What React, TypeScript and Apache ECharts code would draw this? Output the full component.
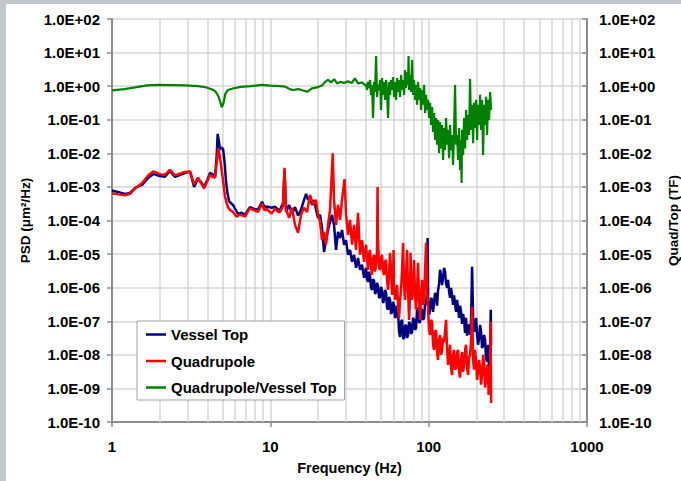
import React, { useEffect, useRef } from "react";
import * as echarts from "echarts";

const FONT = 'Arial, "Liberation Sans", Helvetica, sans-serif';

const seriesNames = ["Vessel Top", "Quadrupole", "Quadrupole/Vessel Top"];
const seriesColors = ["#000080", "#ff0000", "#008000"];

// Vessel Top PSD [frequency Hz, um^2/Hz]
const vesselTop: [number, number][] = [
  [1.0, 7.8e-4], [1.1, 7.0e-4], [1.21, 6.2e-4], [1.3, 6.6e-4], [1.4, 9.3e-4], [1.55, 1.15e-3], [1.69, 1.85e-3], [1.82, 2.4e-3],
  [1.9, 2.3e-3], [2.01, 2.1e-3], [2.16, 2.0e-3], [2.32, 3.0e-3], [2.5, 2.0e-3], [2.7, 2.3e-3], [2.89, 2.6e-3], [3.11, 2.85e-3],
  [3.3, 1.0e-3], [3.49, 1.7e-3], [3.65, 1.4e-3], [3.81, 1.0e-3], [4.0, 1.6e-3], [4.16, 2.6e-3], [4.3, 2.4e-3], [4.48, 2.1e-3],
  [4.58, 8e-3], [4.65, 3.8e-2], [4.75, 2.0e-2], [4.81, 1.26e-2], [4.9, 1.5e-2], [5.03, 1.35e-2], [5.15, 5e-3], [5.24, 1.6e-3],
  [5.35, 7e-4], [5.49, 3.7e-4], [5.81, 2.9e-4], [6.0, 2.2e-4], [6.25, 1.57e-4], [6.6, 1.7e-4], [6.92, 1.47e-4], [7.2, 2.0e-4],
  [7.44, 2.5e-4], [7.9, 2.2e-4], [8.36, 2.1e-4], [8.87, 3.6e-4], [9.2, 2.5e-4], [9.49, 2.6e-4], [10.2, 2.4e-4], [10.7, 2.6e-4],
  [11.2, 2.1e-4], [11.52, 2.1e-4], [12.03, 3.3e-4], [12.29, 3.0e-3], [12.57, 1.8e-4], [13.13, 2.9e-4], [13.71, 1.6e-4], [14.32, 2.5e-4],
  [14.96, 1.4e-4], [15.63, 2.1e-4], [16.33, 4.1e-4], [16.81, 6.2e-4], [17.31, 4.1e-4], [17.81, 5.0e-4], [18.34, 2.9e-4], [18.88, 4.1e-4],
  [19.44, 2.1e-4], [20.01, 1.2e-4], [20.61, 1.5e-4], [21.21, 6.0e-5], [21.84, 1.16e-5], [22.48, 2.6e-5], [23.14, 5.2e-5], [23.83, 9.1e-5],
  [24.53, 1.47e-4], [25.25, 7.4e-5], [26.0, 1.33e-5], [26.77, 4.6e-5], [27.56, 3.0e-5], [28.37, 5.2e-5], [29.22, 1.9e-5], [30.08, 2.6e-5],
  [30.96, 9.5e-6], [31.88, 1.33e-5], [32.82, 5.9e-6], [33.79, 9.5e-6], [34.79, 3.9e-6], [35.81, 7.7e-6], [36.87, 3.4e-6], [37.96, 4.8e-6],
  [39.08, 1.96e-6], [40.23, 3.9e-6], [40.82, 1.7e-6], [41.42, 1.5e-6], [42.03, 3.0e-6], [42.64, 2.2e-6], [43.27, 9.9e-7], [43.9, 8.6e-7],
  [44.54, 1.8e-6], [45.19, 1.6e-6], [45.86, 6.5e-7], [46.53, 7.5e-7], [47.21, 1.4e-6], [47.9, 1.1e-6], [48.6, 5.0e-7], [49.32, 5.3e-7],
  [50.04, 1.06e-6], [50.77, 8.0e-7], [51.51, 3.5e-7], [52.27, 4.3e-7], [53.03, 8.6e-7], [53.81, 7.0e-7], [54.6, 2.5e-7], [55.4, 2.2e-7],
  [56.21, 5.3e-7], [57.04, 4.3e-7], [57.87, 1.66e-7], [58.72, 1.9e-7], [59.58, 3.8e-7], [60.45, 3.1e-7], [61.35, 1.26e-7], [62.24, 1.4e-7],
  [63.15, 2.9e-7], [64.08, 1.9e-7], [65.01, 4.8e-8], [65.96, 3.4e-8], [66.93, 9.6e-8], [67.92, 1.1e-7], [68.91, 3.2e-8], [69.92, 3.0e-8],
  [70.94, 7.3e-8], [71.98, 7.8e-8], [73.04, 3.2e-8], [74.11, 3.9e-8], [75.19, 9.6e-8], [76.3, 8.4e-8], [77.41, 4.2e-8], [78.55, 4.8e-8],
  [79.7, 1.26e-7], [80.87, 1.1e-7], [82.05, 5.5e-8], [83.26, 6.4e-8], [84.48, 2.2e-7], [85.71, 2.5e-7], [86.97, 9.0e-8], [88.25, 9.6e-8],
  [89.54, 2.3e-7], [90.86, 2.2e-7], [92.18, 1.1e-7], [93.53, 1.26e-7], [94.91, 3.5e-7], [96.3, 3.1e-7], [97.7, 8.6e-7], [98.42, 3.0e-5],
  [99.13, 4.3e-7], [100.6, 1.55e-7], [102.1, 2.2e-7], [103.6, 5.0e-7], [105.1, 4.3e-7], [106.6, 1.9e-7], [108.2, 3.8e-7], [109.8, 7.0e-7],
  [111.4, 5.7e-7], [113.0, 2.9e-7], [114.7, 8.6e-7], [116.3, 1.3e-6], [118.0, 3.4e-6], [119.8, 2.2e-6], [121.5, 1.2e-6], [123.3, 1.96e-6],
  [125.1, 3.9e-6], [126.9, 3.0e-6], [128.8, 1.3e-6], [130.7, 9.9e-7], [132.6, 1.7e-6], [134.6, 7.5e-7], [136.5, 5.0e-7], [138.5, 9.9e-7],
  [140.6, 5.7e-7], [142.6, 3.1e-7], [144.7, 5.9e-7], [146.8, 3.1e-7], [149.0, 1.9e-7], [151.2, 4.3e-7], [153.4, 2.5e-7], [155.6, 1.26e-7],
  [157.9, 2.9e-7], [160.2, 1.9e-7], [162.6, 8.4e-8], [165.0, 1.66e-7], [167.4, 1.1e-7], [169.8, 4.5e-8], [172.3, 1.26e-7], [174.8, 3.7e-8],
  [177.4, 7.3e-8], [180.0, 7.8e-8], [182.6, 3.9e-8], [185.3, 1.1e-7], [188.0, 4.2e-6], [190.8, 1.26e-7], [193.6, 4.8e-8], [196.4, 6.4e-8],
  [199.3, 1.26e-7], [202.2, 3.9e-8], [205.1, 2.0e-8], [208.2, 3.2e-8], [211.2, 7.8e-8], [214.3, 4.8e-8], [217.4, 1.6e-8], [220.6, 1.85e-8],
  [223.9, 3.9e-8], [227.1, 2.8e-8], [230.5, 8.2e-9], [233.8, 6.2e-9], [237.3, 2.0e-8], [240.7, 3.6e-9], [244.3, 1.4e-8], [246.8, 2.2e-7],
  [247.9, 2.0e-8],
];

// Quadrupole PSD [frequency Hz, um^2/Hz]
const quadrupole: [number, number][] = [
  [1.0, 6.5e-4], [1.1, 6.0e-4], [1.21, 5.6e-4], [1.3, 6.2e-4], [1.4, 9.0e-4], [1.55, 1.3e-3], [1.69, 2.2e-3], [1.82, 2.9e-3],
  [1.9, 2.7e-3], [2.01, 2.4e-3], [2.16, 2.3e-3], [2.32, 3.2e-3], [2.5, 2.2e-3], [2.7, 2.5e-3], [2.89, 2.8e-3], [3.11, 2.9e-3],
  [3.3, 1.2e-3], [3.49, 1.9e-3], [3.65, 1.3e-3], [3.81, 9.0e-4], [4.0, 1.5e-3], [4.16, 2.3e-3], [4.3, 2.0e-3], [4.48, 1.9e-3],
  [4.58, 5.0e-3], [4.69, 1.4e-2], [4.8, 8.0e-3], [4.93, 3.2e-3], [5.05, 1.3e-3], [5.17, 5.2e-4], [5.3, 3.3e-4], [5.42, 2.4e-4],
  [5.6, 2.0e-4], [5.81, 1.8e-4], [6.13, 1.3e-4], [6.4, 1.5e-4], [6.7, 1.4e-4], [6.92, 1.3e-4], [7.2, 1.8e-4], [7.44, 2.3e-4],
  [7.9, 2.0e-4], [8.36, 1.8e-4], [8.87, 3.2e-4], [9.2, 2.0e-4], [9.49, 2.2e-4], [10.2, 1.6e-4], [10.7, 2.3e-4], [11.2, 1.8e-4],
  [11.52, 1.8e-4], [12.03, 2.7e-4], [12.29, 3.7e-3], [12.57, 2.1e-4], [13.13, 1.2e-4], [13.71, 2.4e-4], [14.32, 7.4e-5], [14.96, 4.3e-5],
  [15.63, 1.47e-4], [16.33, 2.4e-4], [17.06, 1.8e-4], [17.81, 5.8e-4], [18.61, 2.9e-4], [19.44, 4.1e-4], [20.01, 1.47e-4], [20.61, 9.1e-5],
  [21.21, 2.6e-5], [21.84, 4.6e-5], [22.48, 1.9e-5], [23.14, 7.4e-5], [23.83, 2.1e-4], [24.78, 1.0e-2], [25.25, 4.1e-4], [26.0, 7.4e-5],
  [26.77, 2.9e-4], [27.56, 1.04e-4], [28.37, 4.1e-4], [29.43, 1.7e-3], [30.08, 1.47e-4], [30.96, 3.7e-5], [31.88, 1.04e-4], [32.82, 1.9e-5],
  [33.79, 7.4e-5], [34.79, 1.33e-5], [35.81, 1.7e-4], [36.87, 9.5e-6], [37.96, 2.6e-5], [39.08, 5.9e-6], [40.23, 1.9e-5], [40.82, 7.7e-6],
  [41.42, 3.4e-6], [42.03, 9.5e-6], [42.64, 1.33e-5], [43.27, 3.9e-6], [43.9, 2.4e-6], [44.54, 7.7e-6], [45.19, 9.5e-6], [45.86, 3.0e-6],
  [46.53, 4.8e-6], [47.21, 1.33e-5], [47.55, 1.0e-3], [47.9, 2.6e-5], [48.6, 3.9e-6], [49.32, 3.4e-6], [50.04, 7.7e-6], [50.77, 9.5e-6],
  [51.51, 3.0e-6], [52.27, 2.4e-6], [53.03, 5.9e-6], [53.81, 6.7e-6], [54.6, 1.7e-6], [55.4, 8.6e-7], [56.21, 2.4e-6], [57.04, 1.09e-5],
  [57.87, 3.4e-6], [58.72, 6.1e-7], [59.58, 1.7e-6], [60.0, 1.33e-5], [60.45, 1.2e-6], [61.35, 4.3e-7], [62.24, 8.6e-7], [63.15, 1.2e-6],
  [64.08, 3.1e-7], [65.01, 1.26e-7], [65.96, 4.3e-7], [66.93, 8.6e-7], [67.92, 3.4e-6], [68.91, 2.15e-5], [69.92, 1.2e-6], [70.94, 4.3e-7],
  [71.98, 2.4e-6], [73.04, 1.33e-5], [74.11, 8.6e-7], [75.19, 1.1e-7], [76.3, 6.1e-7], [76.85, 1.09e-5], [77.41, 1.7e-6], [78.55, 4.3e-7],
  [79.7, 1.2e-6], [80.87, 6.7e-6], [82.05, 6.1e-7], [83.26, 2.2e-7], [84.48, 8.6e-7], [85.71, 5.5e-6], [86.97, 4.3e-7], [88.25, 1.1e-7],
  [89.54, 6.1e-7], [90.86, 1.7e-6], [92.18, 3.1e-7], [93.53, 4.3e-7], [94.91, 3.4e-6], [96.3, 2.15e-5], [97.7, 8.6e-7], [99.13, 2.2e-7],
  [100.6, 5.5e-8], [102.1, 3.9e-8], [103.6, 1.1e-7], [105.1, 9.6e-8], [106.6, 2.0e-8], [108.2, 1.4e-8], [109.8, 4.8e-8], [111.4, 5.5e-8],
  [113.0, 1.2e-8], [114.7, 7.1e-9], [116.3, 2.8e-8], [118.0, 3.9e-8], [119.8, 1.0e-8], [121.5, 1.4e-8], [123.3, 3.2e-8], [125.1, 2.4e-8],
  [126.9, 4.8e-8], [128.8, 1.1e-7], [130.7, 1.4e-8], [132.6, 5.0e-9], [134.6, 1.0e-8], [136.5, 2.0e-8], [138.5, 4.1e-9], [140.6, 2.5e-9],
  [142.6, 1.0e-8], [144.7, 1.4e-8], [146.8, 3.6e-9], [149.0, 4.1e-9], [151.2, 1.2e-8], [153.4, 1.4e-8], [155.6, 3.1e-9], [157.9, 2.1e-9],
  [160.2, 7.1e-9], [162.6, 1.2e-8], [165.0, 3.1e-9], [167.4, 5.0e-9], [169.8, 1.4e-8], [172.3, 2.0e-8], [174.8, 4.1e-9], [177.4, 2.5e-9],
  [180.0, 8.2e-9], [182.6, 1.0e-8], [185.3, 2.8e-8], [188.0, 2.7e-7], [190.8, 7.1e-9], [193.6, 3.6e-9], [196.4, 1.4e-8], [199.3, 6.2e-9],
  [202.2, 1.8e-9], [205.1, 3.1e-9], [208.2, 7.1e-9], [211.2, 4.1e-9], [214.3, 1.3e-9], [217.4, 2.5e-9], [220.6, 1.0e-8], [223.9, 6.2e-9],
  [227.1, 1.05e-9], [230.5, 1.8e-9], [233.8, 5.0e-9], [237.3, 3.1e-9], [239.0, 6.4e-10], [240.7, 1.3e-9], [242.5, 3.6e-9], [244.3, 1.8e-9],
  [246.0, 9.6e-8], [247.9, 3.7e-10],
];

// Quadrupole / Vessel Top transfer function [frequency Hz, ratio]
const ratio: [number, number][] = [
  [1.0, 0.75], [1.2, 0.82], [1.4, 0.92], [1.66, 1.05], [2.0, 1.09], [2.4, 1.08], [2.9, 1.05], [3.5, 1.0],
  [3.9, 0.93], [4.3, 0.8], [4.5, 0.7], [4.7, 0.5], [4.87, 0.3], [4.93, 0.235], [5.05, 0.3], [5.2, 0.6],
  [5.4, 0.77], [5.8, 0.85], [6.5, 0.95], [7.5, 1.0], [8.8, 1.09], [10.0, 1.04], [11.5, 1.0], [12.4, 0.97],
  [13.4, 0.8], [14.0, 0.77], [15.0, 0.82], [16.1, 0.74], [17.1, 0.68], [18.3, 0.86], [20.0, 0.94], [21.2, 1.05],
  [22.2, 1.34], [23.1, 1.55], [24.2, 1.29], [25.3, 1.62], [26.4, 1.21], [27.6, 1.34], [29.2, 1.25], [30.9, 1.4],
  [32.7, 1.25], [34.2, 1.71], [35.8, 1.21], [37.9, 1.29], [39.6, 1.09], [40.23, 1.09], [40.82, 0.77], [41.42, 1.33],
  [42.03, 0.88], [42.64, 1.53], [43.27, 0.55], [43.9, 1.09], [44.54, 0.113], [45.19, 1.33], [45.86, 0.67], [46.53, 7.9],
  [47.21, 0.48], [47.9, 1.09], [48.6, 0.77], [49.32, 1.53], [50.04, 0.196], [50.77, 1.75], [51.51, 0.55], [52.27, 1.33],
  [53.03, 0.39], [53.81, 1.53], [54.6, 0.67], [55.4, 0.113], [56.21, 1.33], [57.04, 0.55], [57.87, 1.53], [58.72, 0.77],
  [59.58, 1.88], [60.45, 0.48], [61.35, 1.33], [62.24, 0.39], [63.15, 1.75], [64.08, 0.67], [65.01, 1.53], [65.96, 0.48],
  [66.93, 2.15], [67.92, 0.77], [68.91, 1.53], [69.92, 0.55], [70.94, 3.0], [71.98, 0.88], [73.04, 2.65], [74.11, 1.09],
  [74.65, 7.9], [75.19, 0.77], [76.3, 2.15], [77.41, 0.67], [78.55, 6.0], [79.7, 0.55], [80.87, 1.53], [82.05, 0.39],
  [83.26, 1.09], [84.48, 0.28], [85.71, 1.33], [86.97, 0.39], [88.25, 0.88], [89.54, 0.196], [90.86, 0.77], [92.18, 0.28],
  [93.53, 1.09], [94.91, 0.159], [96.3, 0.55], [97.7, 0.196], [99.13, 0.39], [100.6, 0.113], [102.1, 0.32], [103.6, 0.07],
  [105.1, 0.24], [106.6, 0.043], [108.2, 0.159], [109.8, 0.025], [111.4, 0.113], [113.0, 0.018], [114.7, 0.098], [116.3, 0.0101],
  [118.0, 0.086], [119.8, 0.014], [121.5, 0.07], [123.3, 0.0063], [125.1, 0.057], [126.9, 0.0125], [128.8, 0.113], [130.7, 0.018],
  [132.6, 0.05], [134.6, 0.0072], [136.5, 0.07], [138.5, 0.0125], [140.6, 0.035], [142.6, 0.0045], [144.7, 0.05], [146.8, 1.09],
  [149.0, 0.018], [151.2, 0.035], [153.4, 0.0063], [155.6, 0.057], [157.9, 0.0032], [160.2, 0.025], [161.4, 0.0013], [162.6, 0.05],
  [165.0, 0.0089], [167.4, 0.113], [169.8, 0.014], [172.3, 0.196], [174.8, 0.025], [177.4, 0.14], [180.0, 0.035], [182.6, 1.64],
  [185.3, 0.05], [188.0, 0.28], [190.8, 0.02], [193.6, 0.32], [196.4, 0.057], [199.3, 0.39], [202.2, 0.025], [205.1, 0.28],
  [208.2, 0.07], [211.2, 0.55], [214.3, 0.05], [217.4, 0.39], [220.6, 0.0089], [223.9, 0.28], [227.1, 0.07], [230.5, 0.48],
  [233.8, 0.035], [237.3, 0.39], [240.7, 0.098], [244.3, 0.67], [247.9, 0.196],
];

// minor vertical grid lines of the logarithmic frequency axis
const minorGridFreqs = [2, 3, 4, 5, 6, 7, 8, 9, 20, 30, 40, 50, 60, 70, 80, 90, 200, 300, 400, 500, 600, 700, 800, 900];

const X_MIN = 1;
const X_MAX = 1000;
const Y_MIN = 1e-10;
const Y_MAX = 1e2;

const GRID_COLOR = "#d6d6d6";
const AXIS_COLOR = "#8c8c8c";

function expLabel(v: number): string {
  const e = Math.round(Math.log10(v));
  const sign = e < 0 ? "-" : "+";
  return `1.0E${sign}${String(Math.abs(e)).padStart(2, "0")}`;
}

export default function App() {
  const ref = useRef<HTMLDivElement>(null);

  useEffect(() => {
    if (!ref.current) return;
    const chart = echarts.init(ref.current, undefined, { renderer: "svg" });

    const yAxisBase = {
      type: "log" as const,
      logBase: 10,
      min: Y_MIN,
      max: Y_MAX,
      interval: 1,
      splitNumber: 12,
      nameLocation: "middle" as const,
      nameRotate: 90,
      nameTextStyle: { fontSize: 13.5, fontWeight: "bold" as const, color: "#000", fontFamily: FONT },
      axisLine: { show: true, lineStyle: { color: AXIS_COLOR, width: 2 } },
      axisLabel: {
        fontSize: 15,
        fontWeight: "bold" as const,
        color: "#000",
        fontFamily: FONT,
        margin: 12,
        formatter: (v: number) => expLabel(v),
      },
    };

    chart.setOption({
      animation: false,
      textStyle: { fontFamily: FONT },
      grid: { left: 112, top: 19, width: 475, height: 403, containLabel: false, outerBoundsMode: "none" },
      legend: {
        orient: "vertical",
        left: 137,
        top: 321,
        padding: [6, 8, 5, 9],
        itemGap: 11.5,
        itemWidth: 20,
        itemHeight: 2.5,
        icon: "rect",
        backgroundColor: "#fff",
        borderColor: "#a0a0a0",
        borderWidth: 1,
        borderRadius: 0,
        textStyle: { fontSize: 15, fontWeight: "bold", color: "#000", fontFamily: FONT },
        data: seriesNames,
      },
      xAxis: {
        type: "log",
        logBase: 10,
        min: X_MIN,
        max: X_MAX,
        name: "Frequency (Hz)",
        nameLocation: "middle",
        nameGap: 38,
        nameTextStyle: { fontSize: 14.5, fontWeight: "bold", color: "#000", fontFamily: FONT },
        axisLine: { show: true, lineStyle: { color: AXIS_COLOR, width: 2 } },
        axisTick: { show: true, inside: false, length: 5, lineStyle: { color: AXIS_COLOR, width: 1.5 } },
        axisLabel: {
          fontSize: 15,
          fontWeight: "bold",
          color: "#000",
          fontFamily: FONT,
          margin: 17,
          formatter: (v: number) => String(Math.round(v)),
        },
        splitLine: { show: true, lineStyle: { color: GRID_COLOR, width: 1.5 } },
      },
      yAxis: [
        {
          ...yAxisBase,
          position: "left",
          name: "PSD (μm²/Hz)",
          nameGap: 80,
          axisTick: { show: true, inside: false, length: 5, lineStyle: { color: AXIS_COLOR, width: 1.5 } },
          splitLine: { show: true, lineStyle: { color: GRID_COLOR, width: 1.5 } },
        },
        {
          ...yAxisBase,
          position: "right",
          name: "Quad/Top (TF)",
          nameGap: 73,
          axisTick: { show: true, inside: true, length: 5, lineStyle: { color: AXIS_COLOR, width: 1.5 } },
          splitLine: { show: false },
        },
      ],
      series: [
        {
          name: seriesNames[0],
          type: "line",
          data: vesselTop,
          yAxisIndex: 0,
          symbol: "none",
          z: 2,
          lineStyle: { color: seriesColors[0], width: 2.5 },
          itemStyle: { color: seriesColors[0] },
          emphasis: { disabled: true },
          markLine: {
            silent: true,
            z: 1,
            symbol: ["none", "none"],
            label: { show: false },
            emphasis: { disabled: true },
            lineStyle: { color: GRID_COLOR, width: 1.5, type: "solid" },
            data: minorGridFreqs.map((f) => ({ xAxis: f })),
          },
        },
        {
          name: seriesNames[1],
          type: "line",
          data: quadrupole,
          yAxisIndex: 0,
          symbol: "none",
          z: 3,
          lineStyle: { color: seriesColors[1], width: 2.5 },
          itemStyle: { color: seriesColors[1] },
          emphasis: { disabled: true },
        },
        {
          name: seriesNames[2],
          type: "line",
          data: ratio,
          yAxisIndex: 1,
          symbol: "none",
          z: 4,
          lineStyle: { color: seriesColors[2], width: 2.2 },
          itemStyle: { color: seriesColors[2] },
          emphasis: { disabled: true },
        },
      ],
    });

    return () => chart.dispose();
  }, []);

  return (
    <div
      ref={ref}
      style={{
        position: "fixed",
        left: 0,
        top: 0,
        width: 681,
        height: 481,
        background: "linear-gradient(#ffffff, #ffffff) 6px 4px / 675px 477px no-repeat, #c2c7cc",
      }}
    />
  );
}
